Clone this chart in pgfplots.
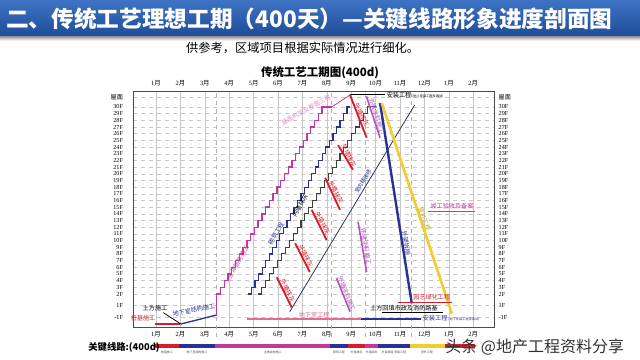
\documentclass[border=0pt]{standalone}
\usepackage{pgfplots}
\pgfplotsset{compat=1.18}
\usepackage{fontspec}
\setmainfont{Liberation Serif}
\newfontfamily\cjk{Noto Sans CJK SC}
\definecolor{mag}{RGB}{198,55,155}
\definecolor{navy}{RGB}{40,50,150}
\definecolor{cred}{RGB}{215,30,45}
\definecolor{cpur}{RGB}{175,85,185}
\definecolor{cyel}{RGB}{240,205,50}
\definecolor{cpink}{RGB}{225,110,145}
\definecolor{bantop}{RGB}{62,115,196}
\definecolor{banbot}{RGB}{30,76,152}
\definecolor{dslate}{RGB}{50,50,90}
\tikzset{lab/.style={font=\cjk\fontsize{4.6}{5}\selectfont, inner sep=0.5pt},
  tiny/.style={font=\cjk\fontsize{2.2}{2.5}\selectfont, text=black!70}}
\newcommand{\M}{{\cjk 月}}
\begin{document}
\begin{tikzpicture}
\useasboundingbox (0pt,0pt) rectangle (480pt,270pt);
\fill[white] (0pt,0pt) rectangle (480pt,270pt);
\shade[top color=bantop, bottom color=banbot] (0pt,242.25pt) rectangle (480pt,270pt);
\shade[top color=gray!70, bottom color=white] (0pt,239.5pt) rectangle (480pt,242.25pt);
\node[anchor=west, text=white, font=\cjk\bfseries\fontsize{17}{17}\selectfont, inner sep=0pt] at (4.5pt,256pt) {二、传统工艺理想工期（400天）—关键线路形象进度剖面图};
\node[font=\cjk\fontsize{9.2}{10}\selectfont] at (227pt,234pt) {供参考，区域项目根据实际情况进行细化。};
\node[font=\cjk\bfseries\fontsize{8.6}{9}\selectfont] at (240pt,215.25pt) {传统工艺工期图(400d)};

\begin{axis}[at={(99.75pt,24.75pt)}, anchor=south west, scale only axis,
  width=270.75pt, height=177pt,
  xmin=0.057, xmax=14.85, ymin=-2.94, ymax=32.39, clip=false,
  axis line style={gray!60!black, line width=0.5pt},
  xtick={1,2,3,4,5,6,7,8,9,10,11,12,13,14},
  xticklabels={1\M,2\M,3\M,4\M,5\M,6\M,7\M,8\M,9\M,10\M,11\M,12\M,1\M,2\M},
  ytick={-1.5,0.35,2,3,4,5,6,7,8,9,10,11,12,13,14,15,16,17,18,19,20,21,22,23,24,25,26,27,28,29,30,31.5},
  yticklabels={-1F,1F,2F,3F,4F,5F,6F,7F,8F,9F,10F,11F,12F,13F,14F,15F,16F,17F,18F,19F,20F,21F,22F,23F,24F,25F,26F,27F,28F,29F,30F,{\cjk 屋面}},
  xmajorgrids, ymajorgrids,
  major x grid style={gray!45, line width=0.4pt},
  major y grid style={gray!45, dashed, line width=0.3pt},
  major tick length=0pt,
  xticklabel style={font=\fontsize{4.8}{5}\selectfont},
  yticklabel style={font=\fontsize{4.6}{5}\selectfont, xshift=-4pt},
]
% phase boundaries
\addplot[gray!60, dashed, line width=0.4pt] coordinates {(3.45,-4.4) (3.45,32.39)};
\addplot[gray!60, dashed, line width=0.4pt] coordinates {(8.2,-4.4) (8.2,32.39)};
\addplot[gray!60, dashed, line width=0.4pt] coordinates {(9.57,-4.4) (9.57,32.39)};
\addplot[gray!60, dashed, line width=0.4pt] coordinates {(11.45,-4.4) (11.45,32.39)};
% bottom-left works
\addplot[cred, line width=1.5pt] coordinates {(0.96,-2.5) (1.98,-2.5)};
\addplot[black, line width=0.6pt] coordinates {(1.3,-0.8) (2.02,-2.49)};
\addplot[navy, line width=1pt] coordinates {(2.02,-2.49) (3.49,-1.14)};
% main structure staircase
\addplot[mag, line width=1pt, const plot] coordinates {(3.49,-1.14) (3.49,2) (3.644,3) (3.798,4) (3.952,5) (4.106,6) (4.260,7) (4.414,8) (4.568,9) (4.722,10) (4.876,11) (5.030,12) (5.184,13) (5.338,14) (5.492,15) (5.646,16) (5.800,17) (5.954,18) (6.108,19) (6.262,20) (6.416,21) (6.570,22) (6.724,23) (6.878,24) (7.032,25) (7.186,26) (7.340,27) (7.494,28) (7.648,29) (7.802,30) (8.2,30)};
\addplot[mag, line width=0.6pt] coordinates {(8.2,30) (8.95,31.8)};
\addplot[black, line width=0.8pt] coordinates {(8.95,31.8) (10.38,31.8)};
% masonry staircase
\addplot[navy, line width=0.9pt, const plot] coordinates {(4.77,2) (4.915,3) (5.060,4) (5.205,5) (5.350,6) (5.495,7) (5.640,8) (5.785,9) (5.930,10) (6.075,11) (6.220,12) (6.365,13) (6.510,14) (6.655,15) (6.800,16) (6.945,17) (7.090,18) (7.235,19) (7.380,20) (7.525,21) (7.670,22) (7.815,23) (7.960,24) (8.105,25) (8.250,26) (8.395,27) (8.540,28) (8.685,29) (8.830,30) (8.95,30)};
% plastering staircase
\addplot[black!75, line width=0.8pt, const plot] coordinates {(5.18,2) (5.34,3) (5.50,4) (5.66,5) (5.82,6) (5.98,7) (6.14,8) (6.30,9) (6.46,10) (6.62,11) (6.78,12) (6.94,13) (7.10,14) (7.26,15) (7.42,16) (7.58,17) (7.74,18) (7.90,19) (8.06,20) (8.22,21) (8.38,22) (8.54,23) (8.70,24) (8.86,25) (9.02,26) (9.18,27) (9.34,28) (9.50,29) (9.66,30) (10.0,30)};
% red facade segments
\addplot[cred, line width=1.4pt] coordinates {(8.95,31.8) (9.63,25.4)};
\addplot[cred, line width=1.4pt] coordinates {(8.46,24.3) (9.07,20.6)};
\addplot[cred, line width=1.4pt] coordinates {(7.93,19.4) (8.54,14.6)};
\addplot[cred, line width=1.4pt] coordinates {(7.38,14.6) (7.99,10.1)};
\addplot[cred, line width=1.4pt] coordinates {(6.70,9.6) (7.30,5.3)};
\addplot[cred, line width=1.4pt] coordinates {(5.95,4.5) (6.56,0.0)};
% purple facade finishing
\addplot[cpur, line width=1.2pt] coordinates {(9.62,31.6) (10.18,25.4)};
\addplot[cpur, line width=1.2pt] coordinates {(9.28,12.8) (9.63,5.3)};
\addplot[cpur, line width=1.2pt] coordinates {(8.40,4.35) (8.95,-0.65)};
% interior decoration diagonal
\addplot[dslate, line width=0.6pt] coordinates {(6.48,-0.65) (11.6,30.3)};
% scaffold removal and outdoor works
\addplot[navy, line width=1.8pt] coordinates {(10.18,30.6) (11.48,0.6)};
\addplot[cyel, line width=2pt] coordinates {(10.25,30.6) (13.12,-0.9)};
% bottom horizontal works
\addplot[cpink, line width=0.8pt] coordinates {(4.72,-1.74) (9.4,-1.74)};
\addplot[navy, line width=0.8pt] coordinates {(9.4,-1.74) (11.85,-1.74)};
\addplot[black, line width=0.8pt] coordinates {(10.25,-0.77) (12.77,-0.77)};
\addplot[cred, line width=0.8pt] coordinates {(10.92,0.7) (13.12,0.7)};
\addplot[mag, line width=0.8pt] coordinates {(12.14,14.3) (14.07,14.3)};
% key path bar
\addplot[cred, line width=3pt] coordinates {(0.96,-5.78) (1.94,-5.78)};
\addplot[navy, line width=3pt] coordinates {(1.94,-5.78) (3.42,-5.78)};
\addplot[mag, line width=3pt] coordinates {(3.42,-5.78) (8.13,-5.78)};
\addplot[navy, line width=3pt] coordinates {(8.13,-5.78) (8.87,-5.78)};
\addplot[cred, line width=3pt] coordinates {(8.87,-5.78) (9.57,-5.78)};
\addplot[mag, line width=3pt] coordinates {(9.57,-5.78) (10.1,-5.78)};
\addplot[navy, line width=3pt] coordinates {(10.1,-5.78) (11.4,-5.78)};
\addplot[cyel, line width=3pt] coordinates {(11.4,-5.78) (12.84,-5.78)};
\addplot[cred, line width=3pt] coordinates {(12.84,-5.78) (14.07,-5.78)};

% labels
\node[lab, text=cred] at (axis cs:0.47,-1.6) {桩基施工};
\node[lab, text=black] at (axis cs:0.96,-0.1) {土方施工};
\node[lab, text=navy, rotate=12] at (axis cs:2.55,-0.4) {地下室结构施工};
\node[lab, text=mag, rotate=60] at (axis cs:4.36,6.8) {主体结构施工};
\node[lab, text=navy, rotate=60] at (axis cs:5.92,11.1) {砌筑工程};
\node[lab, text=black, rotate=60] at (axis cs:6.9,15.2) {内墙抹灰};
\node[lab, text=mag!55, rotate=29] at (axis cs:7.15,29.5) {屋面构架及屋面工程};
\node[lab, text=navy, rotate=59, anchor=south, font=\cjk\fontsize{4}{4}\selectfont] at (axis cs:9.6,18.6) {室内精装修};
\node[lab, text=cred, rotate=-63, anchor=south] at (axis cs:9.29,28.6) {外墙抹灰};
\node[lab, text=cred, rotate=-63, anchor=south] at (axis cs:8.77,22.45) {外墙抹灰};
\node[lab, text=cred, rotate=-63, anchor=south] at (axis cs:8.24,17.0) {外墙抹灰};
\node[lab, text=cred, rotate=-63, anchor=south] at (axis cs:7.69,12.35) {外墙抹灰};
\node[lab, text=cred, rotate=-63, anchor=south] at (axis cs:7.0,7.45) {外墙抹灰};
\node[lab, text=cred, rotate=-63, anchor=south] at (axis cs:6.26,2.25) {外墙抹灰};
\node[lab, text=cpur, rotate=-72, anchor=south] at (axis cs:9.9,28.5) {外墙涂料施工};
\node[lab, text=cpur, rotate=-80, anchor=south] at (axis cs:9.45,9.0) {外墙涂料施工};
\node[lab, text=cpur, rotate=-68, anchor=south] at (axis cs:8.67,1.85) {外墙涂料施工};
\node[lab, text=navy, rotate=-81] at (axis cs:11.25,9.6) {外架拆除};
\node[lab, text=cyel!80!black, rotate=-70] at (axis cs:12.0,13.2) {室外工程};
\node[lab, text=mag] at (axis cs:13.13,15.2) {竣工验收及备案};
\node[lab, text=cred] at (axis cs:12.3,1.55) {园艺绿化工程};
\node[lab, text=black] at (axis cs:11.16,-0.05) {土方回填市政及消防路基};
\node[lab, text=navy, anchor=west] at (axis cs:11.9,-1.64) {安装工程\,{\fontsize{2.4}{3}\selectfont (地下安装工程及调试)}};
\node[lab, text=cpink] at (axis cs:7.48,-1.14) {地下室工程};
\node[lab, text=black, anchor=west] at (axis cs:10.42,31.8) {安装工程\,{\fontsize{2.4}{3}\selectfont (地上安装工程及调试)}};
% tiny captions under the key bar
\node[tiny] at (axis cs:1.45,-6.75) {桩基施工};
\node[tiny] at (axis cs:2.68,-6.75) {地下室结构施工};
\node[tiny] at (axis cs:5.78,-6.75) {主体结构施工};
\node[tiny] at (axis cs:8.5,-6.75) {砌筑工程};
\node[tiny] at (axis cs:9.22,-6.75) {外墙抹灰};
\node[tiny] at (axis cs:9.84,-6.75) {外墙涂料};
\node[tiny] at (axis cs:10.75,-6.75) {外架拆除\ 安装工程};
\node[tiny] at (axis cs:12.1,-6.75) {室外工程};
\end{axis}

\begin{axis}[at={(99.75pt,24.75pt)}, anchor=south west, scale only axis,
  width=270.75pt, height=177pt,
  xmin=0.057, xmax=14.85, ymin=-2.94, ymax=32.39,
  axis line style={draw=none},
  xtick={1,2,3,4,5,6,7,8,9,10,11,12,13,14},
  xticklabels={1\M,2\M,3\M,4\M,5\M,6\M,7\M,8\M,9\M,10\M,11\M,12\M,1\M,2\M},
  ytick={-1.5,0.35,2,3,4,5,6,7,8,9,10,11,12,13,14,15,16,17,18,19,20,21,22,23,24,25,26,27,28,29,30,31.5},
  yticklabels={-1F,1F,2F,3F,4F,5F,6F,7F,8F,9F,10F,11F,12F,13F,14F,15F,16F,17F,18F,19F,20F,21F,22F,23F,24F,25F,26F,27F,28F,29F,30F,{\cjk 屋面}},
  xticklabel pos=right, yticklabel pos=right,
  major tick length=0pt,
  xticklabel style={font=\fontsize{4.8}{5}\selectfont},
  yticklabel style={font=\fontsize{4.6}{5}\selectfont},
]
\addplot[draw=none] coordinates {(1,1)};
\end{axis}

\node[font=\cjk\bfseries\fontsize{7}{7}\selectfont] at (93pt,9.75pt) {关键线路:(400d)};
\node[font=\cjk\fontsize{12}{12}\selectfont, text=black!80] at (401pt,9.75pt) {头条 @地产工程资料分享};
\end{tikzpicture}
\end{document}
